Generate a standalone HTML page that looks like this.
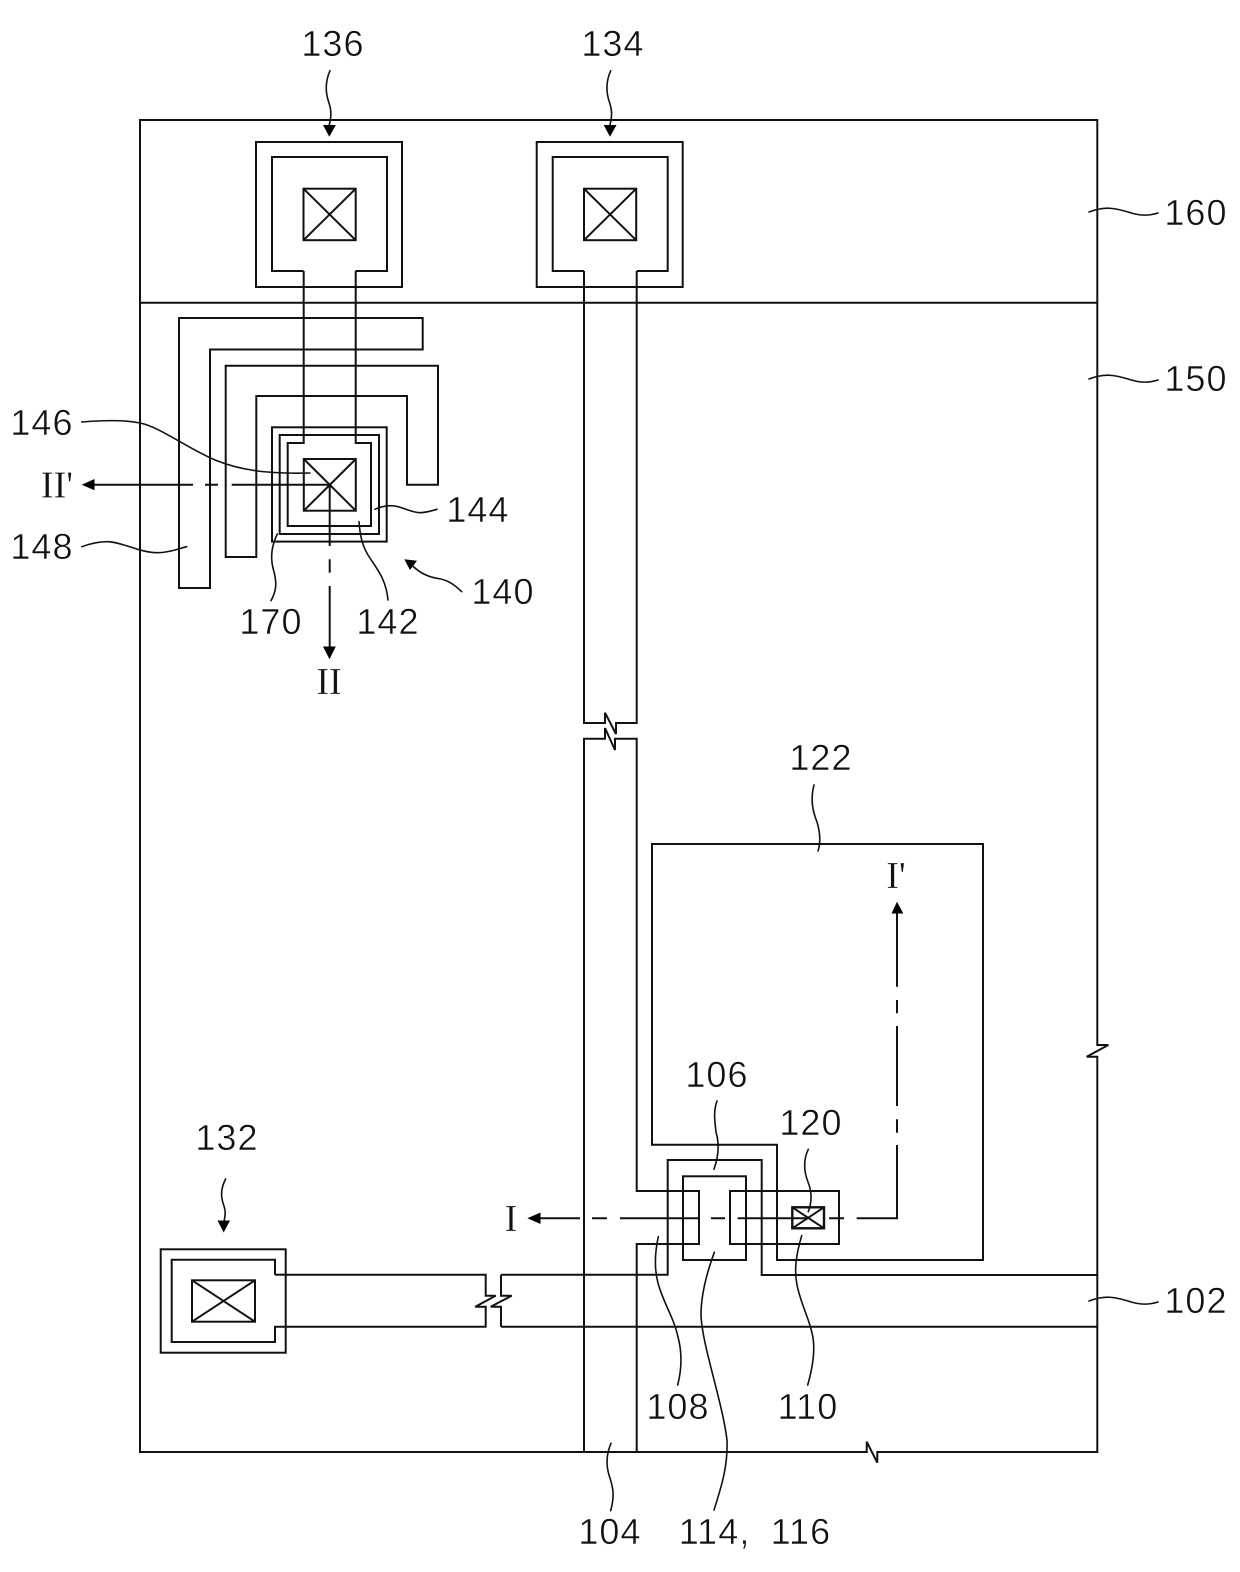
<!DOCTYPE html>
<html>
<head>
<meta charset="utf-8">
<style>
html,body{margin:0;padding:0;background:#fff;width:1240px;height:1572px;overflow:hidden}
svg{display:block}
.l{fill:none;stroke:#111;stroke-width:2;stroke-linejoin:miter}
.c{fill:none;stroke:#111;stroke-width:1.6;stroke-linecap:round}
.a{fill:#000;stroke:none}
text{fill:#111}
.n{font-family:"Liberation Sans",sans-serif;font-size:36px;letter-spacing:1.1px;text-anchor:middle;stroke:#fff;stroke-width:.5px;paint-order:normal}
.r{font-family:"Liberation Serif",serif;font-size:38px;text-anchor:middle;stroke:#fff;stroke-width:.3px}
</style>
</head>
<body>
<svg width="1240" height="1572" viewBox="0 0 1240 1572" xmlns="http://www.w3.org/2000/svg">
<rect width="1240" height="1572" fill="#fff"/>

<!-- frame -->
<path class="l" d="M140,120 H1097.3 V1045 H1108.3 L1086.7,1056.7 H1097.3 V1452 H877.3 V1462.7 L866.7,1441.7 V1452 H140 Z"/>
<path class="l" d="M140,302.7 H1097.3"/>

<!-- pad 136 -->
<rect class="l" x="256" y="142" width="146" height="145"/>
<path class="l" d="M303.5,271 H272 V157 H387 V271 H355.5"/>
<rect class="l" x="303.5" y="188.7" width="52.2" height="51.5"/>
<path class="l" d="M303.5,188.7 L355.7,240.2 M355.7,188.7 L303.5,240.2"/>
<path class="l" d="M303.7,271 V443 H287.7 V526 H371 V443 H355.7 V271"/>

<!-- pad 134 -->
<rect class="l" x="536.7" y="142" width="146" height="145"/>
<path class="l" d="M584,271 H552.7 V157 H667.7 V271 H636.7"/>
<rect class="l" x="584" y="188.7" width="52.2" height="51.5"/>
<path class="l" d="M584,188.7 L636.2,240.2 M636.2,188.7 L584,240.2"/>
<path class="l" d="M584,271 V723 H605 V712.7 L616,734 V723 H636.7 V271"/>
<path class="l" d="M584,1452 V738.7 H605 V728 L615,750 V738.7 H636.7 V1191 H699 V1244 H636.7 V1452"/>

<!-- 148 / 144 electrodes -->
<path class="l" d="M179,318 H422.7 V349.5 H210 V588 H179 Z"/>
<path class="l" d="M225.7,365.7 H438 V484.7 H407 V396 H256.3 V557 H225.7 Z"/>
<rect class="l" x="272" y="427.3" width="114.7" height="114.3"/>
<rect class="l" x="279.7" y="435" width="99.3" height="99"/>
<rect class="l" x="303.8" y="459" width="52" height="51.7"/>
<path class="l" d="M303.8,459 L355.8,510.7 M355.8,459 L303.8,510.7"/>

<!-- cut II' -->
<path class="l" d="M94,484.7 H193 M205,484.7 H218 M231.7,484.7 H329.7"/>
<path class="a" d="M81.7,484.7 L94.5,479 V490.3 Z"/>
<!-- cut II -->
<path class="l" d="M329.7,484.7 V546 M329.7,559.3 V572.7 M329.7,586 V647"/>
<path class="a" d="M329.5,659.3 L323,646.5 H335.8 Z"/>

<!-- pixel 122 -->
<path class="l" d="M652,844 H983 V1260 H777 V1144.7 H652 Z"/>
<!-- gate -->
<path class="l" d="M501,1274.7 H667.7 V1160 H761.7 V1275 H1097.3"/>
<path class="l" d="M501,1326.7 H1097.3"/>
<path class="l" d="M501,1274.7 V1295.7 H511.7 L490.7,1306.7 H501 V1326.7"/>
<path class="l" d="M285.7,1274.7 H485.7 V1295.7 H495.7 L475.3,1306.7 H485.7 V1326.7 H285.7"/>
<!-- semiconductor -->
<rect class="l" x="683" y="1176.3" width="63" height="83.7"/>
<!-- drain -->
<path class="l" d="M730,1191 H839 V1244 H730 Z"/>
<rect x="792.3" y="1207.3" width="31.7" height="21" fill="none" stroke="#111" stroke-width="2.4"/>
<path class="l" d="M792.3,1207.3 L824,1228.3 M824,1207.3 L792.3,1228.3"/>

<!-- pad 132 -->
<rect class="l" x="160.7" y="1249.3" width="125" height="103.4"/>
<path class="l" d="M275,1274.7 V1259.7 H171.7 V1342 H275 V1326.7 H285.7"/>
<path class="l" d="M275,1274.7 H285.7"/>
<rect class="l" x="192" y="1280.3" width="63" height="41.4"/>
<path class="l" d="M192,1280.3 L255,1321.7 M255,1280.3 L192,1321.7"/>

<!-- cut I / I' -->
<path class="l" d="M540,1218.3 H580 M592,1218.3 H607 M620,1218.3 H699 M711,1218.3 H725 M737.7,1218.3 H808 M829,1218.3 H844 M856.7,1218.3 H897 V1145 M897,1132.7 V1119.3 M897,1106 V1026 M897,1013.3 V1000 M897,986.7 V912"/>
<path class="a" d="M527.4,1218.3 L540.5,1212.5 V1224 Z"/>
<path class="a" d="M897,901.7 L891.5,913.5 H903.3 Z"/>

<!-- leaders -->
<path class="c" d="M330,70.7 C325,82 325,92 329,103 C332,112 331,118 329,126"/>
<path class="a" d="M329.3,136.8 L323,125 H335.8 Z"/>
<path class="c" d="M610.7,70.7 C605.7,82 605.7,92 609.7,103 C612.7,112 611.7,118 609.7,126"/>
<path class="a" d="M610,136.8 L603.7,125 H616.5 Z"/>
<path class="c" d="M1089,212 C1105,206 1115,208 1128,212 C1140,216 1148,216 1158,213"/>
<path class="c" d="M1089,379 C1105,373 1115,375 1128,379 C1140,383 1148,383 1158,380"/>
<path class="c" d="M1089,1301 C1105,1295 1115,1297 1128,1301 C1140,1305 1148,1305 1158,1302"/>
<path class="c" d="M81.7,422 C105,420 125,420 140,423 C160,427 185,447 215,460 C240,470 265,474 310,473"/>
<path class="c" d="M81.7,546.7 C92,543 100,541.5 108,541.7 C122,542 140,552.7 157,552.7 C168,552.7 178,549 186.7,546.7"/>
<path class="c" d="M375,509.3 C382,506 388,505 395,506 C405,508 412,512.5 420,512.7 C426,512.7 431,511 437,509.3"/>
<path class="c" d="M359,521.7 C360,535 362,545 368,555 C376,568 386,578 388,600"/>
<path class="c" d="M277.3,534 C272,545 270,556 273,568 C277,582 277,590 271,600.7"/>
<path class="a" d="M404.3,559.3 L417,560.7 L410,570 Z"/>
<path class="c" d="M412.7,566 C420,573 428,577 438,578.5 C448,580 455,585 461.7,591.7"/>
<path class="c" d="M814,785 C810,800 813,812 817,822 C820,832 821,842 818,851"/>
<path class="c" d="M717,1101 C713,1112 715,1122 716,1132 C719,1142 719,1155 714,1169.3"/>
<path class="c" d="M808.3,1149.3 C803,1160 804,1172 808,1182 C812,1192 812,1202 808.3,1211.7"/>
<path class="c" d="M658.3,1236.7 C655,1252 654,1268 658,1283 C663,1302 674,1318 678,1337 C682,1352 682,1368 677.7,1385"/>
<path class="c" d="M714.3,1252.3 C706,1275 701,1295 701,1315 C702,1345 722,1400 727,1440 C728,1465 722,1485 714,1510"/>
<path class="c" d="M801.7,1235.7 C796,1255 794,1270 797,1285 C801,1305 811,1322 813.3,1340 C815,1355 812,1370 807.7,1385"/>
<path class="c" d="M611,1443.3 C606,1455 606,1465 609,1475 C613,1487 615,1495 610.7,1510.7"/>
<path class="c" d="M225.6,1179 C220,1190 221,1198 224,1206 C226,1212 225,1216 224,1222"/>
<path class="a" d="M223.7,1232.5 L217.5,1220.5 H230 Z"/>

<!-- labels -->
<text class="n" x="333" y="56">136</text>
<text class="n" x="613" y="56">134</text>
<text class="n" x="1196" y="225">160</text>
<text class="n" x="1196" y="391">150</text>
<text class="n" x="1196" y="1313">102</text>
<text class="n" x="42" y="435">146</text>
<text class="n" x="42" y="559">148</text>
<text class="n" x="478" y="522">144</text>
<text class="n" x="271" y="634">170</text>
<text class="n" x="388" y="634">142</text>
<text class="n" x="503" y="604">140</text>
<text class="n" x="821" y="770">122</text>
<text class="n" x="717" y="1087">106</text>
<text class="n" x="811" y="1135">120</text>
<text class="n" x="227" y="1150">132</text>
<text class="n" x="678" y="1419">108</text>
<text class="n" x="808" y="1419">110</text>
<text class="n" x="610" y="1544">104</text>
<text class="n" x="755" y="1544" style="word-spacing:9px">114, 116</text>
<text class="r" x="57" y="497.5">II'</text>
<text class="r" x="329" y="694">II</text>
<text class="r" x="896" y="888">I'</text>
<text class="r" x="511" y="1231">I</text>
</svg>
</body>
</html>
